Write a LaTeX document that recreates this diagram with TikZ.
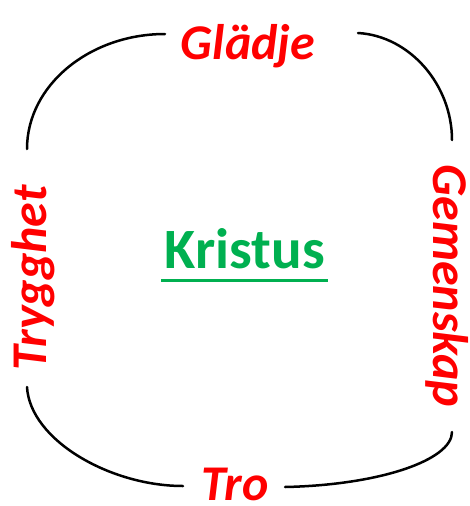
\documentclass[tikz,border=0pt]{standalone}
\usepackage{fontspec}
\setmainfont{Carlito}
\usetikzlibrary{positioning,calc}
\definecolor{kristusGreen}{RGB}{0, 176, 80}
\definecolor{ordRed}{RGB}{255, 0, 0}

\begin{document}
\begin{tikzpicture}[
  x=1pt, y=-1pt,
  word/.style={
    text=ordRed,
    font=\fontsize{50}{50}\selectfont\bfseries\itshape,
    inner sep=0pt,
    anchor=base
  },
  frame/.style={line width=2.5pt, black, line cap=round}
]
  \useasboundingbox (0,0) rectangle (470,506);
  % words round the frame
  \node[word] (gladje) at (248,59) {Glädje};
  \node[word] (tro) at (235,500) {Tro};
  \node[word,rotate=90] (trygghet) at (46,278) {Trygghet};
  \node[word,rotate=-90] (gemenskap) at (433,286) {Gemenskap};
  % centre
  \node[text=kristusGreen,font=\fontsize{57}{57}\selectfont\bfseries,
    inner sep=0pt,anchor=base] (kristus) at (245,268) {Kristus};
  \draw[kristusGreen,line width=3pt]
    ([xshift=-4pt,yshift=-12pt]kristus.base west) --
    ([xshift=3pt,yshift=-12pt]kristus.base east);
  % frame
  \coordinate (tl1) at (165,34);
  \coordinate (tl2) at (27,149);
  \coordinate (tr1) at (358,33);
  \coordinate (tr2) at (452,140);
  \coordinate (bl1) at (27,387);
  \coordinate (bl2) at (183,486);
  \coordinate (br1) at (285,487);
  \coordinate (br2) at (452,432);
  \draw[frame] (tl1) .. controls (90,34) and (27,85) .. (tl2);
  \draw[frame] (tr1) .. controls (410,36) and (452,85) .. (tr2);
  \draw[frame] (bl1) .. controls (30,440) and (110,486) .. (bl2);
  \draw[frame] (br1) .. controls (380,485) and (452,460) .. (br2);
\end{tikzpicture}
\end{document}
